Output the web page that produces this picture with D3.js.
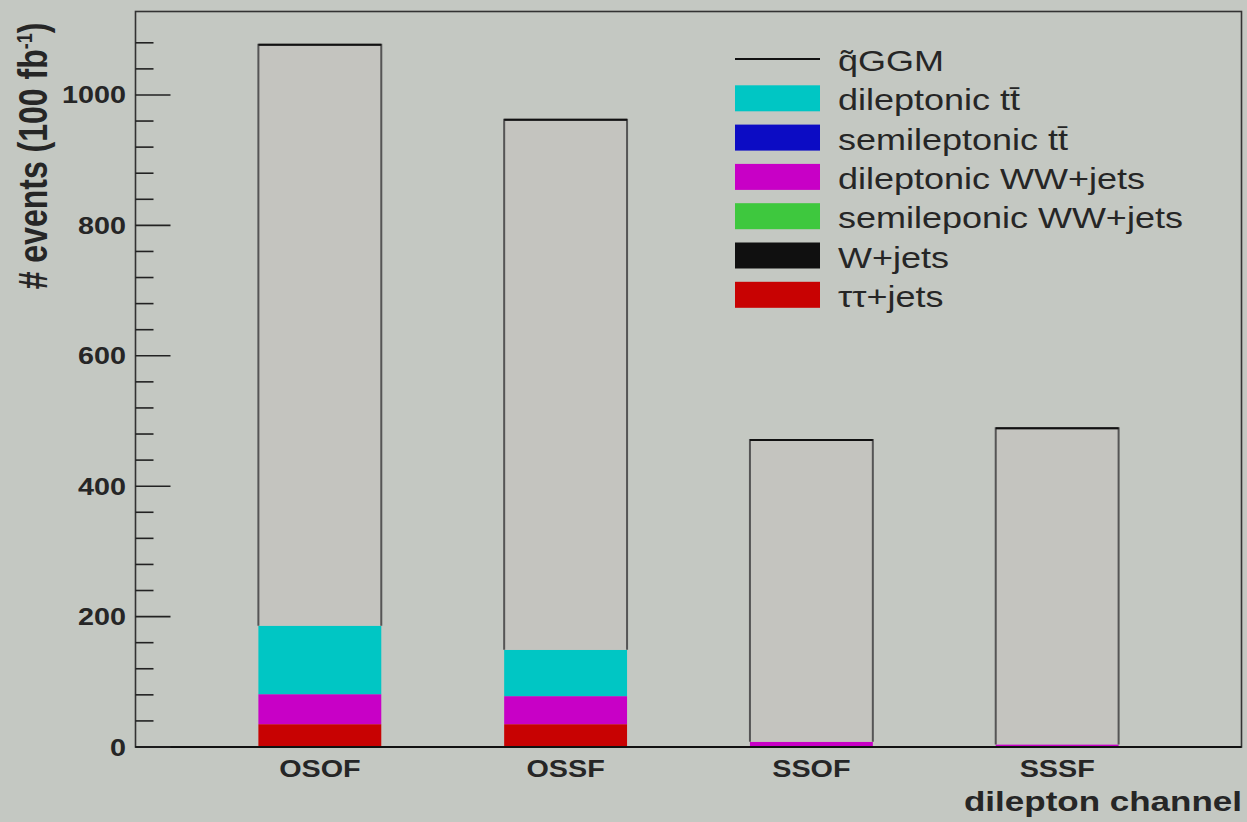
<!DOCTYPE html>
<html>
<head>
<meta charset="utf-8">
<script src="https://cdn.jsdelivr.net/npm/d3@7"></script>
<style>
  html, body { margin: 0; padding: 0; background: #c4c8c2; }
  svg { display: block; font-family: "Liberation Sans", Arial, sans-serif; }
</style>
</head>
<body>
<svg id="chart"></svg>
<script>
const WIDTH = 1247;
const HEIGHT = 822;

// channels on the x axis
const channels = ["OSOF", "OSSF", "SSOF", "SSSF"];

// stack components, bottom to top (values in events / 100 fb^-1)
const tautauJets   = [35, 35, 0, 0];
const wJets        = [0, 0, 0, 0];
const semiWWJets   = [0, 0, 0, 0];
const diWWJets     = [46, 43, 8, 4];
const semiTTbar    = [0, 0, 0, 0];
const diTTbar      = [105, 71, 0, 0];
const qGGM         = [891, 813, 463, 485];

const yTicks = [0, 200, 400, 600, 800, 1000];
const yMinorTicks = d3.range(0, 1100, 40);

// legend order (top to bottom)
const legendNames = ["q\u0303GGM", "dileptonic t\u0074\u0304", "semileptonic t\u0074\u0304",
    "dileptonic WW+jets", "semileponic WW+jets", "W+jets", "\u03c4\u03c4+jets"];

const series = [
    { key: "tautau", name: "\u03c4\u03c4+jets", values: tautauJets, color: "#c80202" },
    { key: "wjets", name: "W+jets", values: wJets, color: "#101010" },
    { key: "semiww", name: "semileponic WW+jets", values: semiWWJets, color: "#3ec83e" },
    { key: "diww", name: "dileptonic WW+jets", values: diWWJets, color: "#c800c6" },
    { key: "semitt", name: "semileptonic t\u0074\u0304", values: semiTTbar, color: "#0c0cc4" },
    { key: "ditt", name: "dileptonic t\u0074\u0304", values: diTTbar, color: "#00c6c4" },
    { key: "qggm", name: "q\u0303GGM", values: qGGM, color: "#c4c4bf" }
];

const STRETCH = 1.25;   // the picture is wider than its type
const margin = { top: 11.5, right: 5.5, bottom: 75, left: 135.5 };

const svg = d3.select("#chart")
    .attr("width", WIDTH)
    .attr("height", HEIGHT);

const x = d3.scaleBand()
    .domain(channels)
    .range([margin.left, WIDTH - margin.right])
    .paddingInner(0.5)
    .paddingOuter(0.5);

const y = d3.scaleLinear()
    .domain([0, 1128])
    .range([HEIGHT - margin.bottom, margin.top]);

// stacked layout
const rows = channels.map((c, i) => {
    const r = { channel: c };
    series.forEach(s => r[s.key] = s.values[i]);
    return r;
});
const stack = d3.stack().keys(series.map(s => s.key));
const stacked = stack(rows);

// bars
const bars = svg.append("g");
stacked.forEach((layer, li) => {
    const s = series[li];
    bars.append("g")
        .selectAll("rect")
        .data(layer.filter(d => d[1] - d[0] > 0))
        .join("rect")
        .attr("x", d => x(d.data.channel))
        .attr("width", x.bandwidth())
        .attr("y", d => y(d[1]))
        .attr("height", d => y(d[0]) - y(d[1]))
        .attr("fill", s.color);
});

// qGGM histogram outline
const topLayer = stacked[stacked.length - 1];
const outline = svg.append("g");
topLayer.forEach(d => {
    const x0 = x(d.data.channel), x1 = x0 + x.bandwidth();
    outline.append("path")
        .attr("d", `M${x0},${y(d[0])}V${y(d[1])}H${x1}V${y(d[0])}`)
        .attr("fill", "none")
        .attr("stroke", "#555")
        .attr("stroke-width", 2);
    outline.append("line")
        .attr("x1", x0).attr("x2", x1)
        .attr("y1", y(d[1])).attr("y2", y(d[1]))
        .attr("stroke", "#111")
        .attr("stroke-width", 2);
});

// frame
svg.append("rect")
    .attr("x", margin.left)
    .attr("y", margin.top)
    .attr("width", WIDTH - margin.right - margin.left)
    .attr("height", y(0) - margin.top)
    .attr("fill", "none")
    .attr("stroke", "#333")
    .attr("stroke-width", 1.6);
svg.append("line")
    .attr("x1", margin.left).attr("x2", WIDTH - margin.right)
    .attr("y1", y(0)).attr("y2", y(0))
    .attr("stroke", "#111").attr("stroke-width", 2);

// y axis ticks
const axis = svg.append("g");
axis.selectAll("line.minor")
    .data(yMinorTicks.filter(v => !yTicks.includes(v)))
    .join("line")
    .attr("class", "minor")
    .attr("x1", margin.left).attr("x2", margin.left + 18)
    .attr("y1", d => y(d)).attr("y2", d => y(d))
    .attr("stroke", "#222").attr("stroke-width", 1.6);
axis.selectAll("line.major")
    .data(yTicks)
    .join("line")
    .attr("class", "major")
    .attr("x1", margin.left).attr("x2", margin.left + 35)
    .attr("y1", d => y(d)).attr("y2", d => y(d))
    .attr("stroke", "#222").attr("stroke-width", 1.6);
axis.selectAll("text")
    .data(yTicks)
    .join("text")
    .attr("transform", d => `translate(126,${y(d) + 8.5}) scale(${STRETCH},1)`)
    .attr("text-anchor", "end")
    .attr("font-size", 23)
    .attr("font-weight", "bold")
    .attr("fill", "#262626")
    .text(d => d);

// y title
const ytitle = svg.append("text")
    .attr("transform", `translate(47,156) scale(${STRETCH},1) rotate(-90)`)
    .attr("text-anchor", "middle")
    .attr("font-size", 32)
    .attr("font-weight", "bold")
    .attr("fill", "#262626");
ytitle.append("tspan").text("# events (100 fb");
ytitle.append("tspan").attr("font-size", 18).attr("dy", -12).text("-1");
ytitle.append("tspan").attr("dy", 12).text(")");

// x labels
svg.append("g").selectAll("text")
    .data(channels)
    .join("text")
    .attr("transform", d => `translate(${x(d) + x.bandwidth() / 2},777) scale(${STRETCH},1)`)
    .attr("text-anchor", "middle")
    .attr("font-size", 23)
    .attr("font-weight", "bold")
    .attr("fill", "#262626")
    .text(d => d);

svg.append("text")
    .attr("transform", `translate(1242,811) scale(${STRETCH},1)`)
    .attr("text-anchor", "end")
    .attr("font-size", 28)
    .attr("font-weight", "bold")
    .attr("fill", "#262626")
    .text("dilepton channel");

// legend
const legend = svg.append("g");
const colorByName = new Map(series.map(s => [s.name, s.color]));
legendNames.forEach((name, i) => {
    const cy = 59 + i * 39.3;
    if (i === 0) {
        legend.append("line")
            .attr("x1", 735).attr("x2", 820)
            .attr("y1", cy).attr("y2", cy)
            .attr("stroke", "#111").attr("stroke-width", 2);
    } else {
        legend.append("rect")
            .attr("x", 735).attr("y", cy - 13)
            .attr("width", 85).attr("height", 26)
            .attr("fill", colorByName.get(name));
    }
    legend.append("text")
        .attr("transform", `translate(838,${cy + 12}) scale(${STRETCH},1)`)
        .attr("font-size", 28.8)
        .attr("fill", "#262626")
        .text(name);
});
</script>
</body>
</html>
